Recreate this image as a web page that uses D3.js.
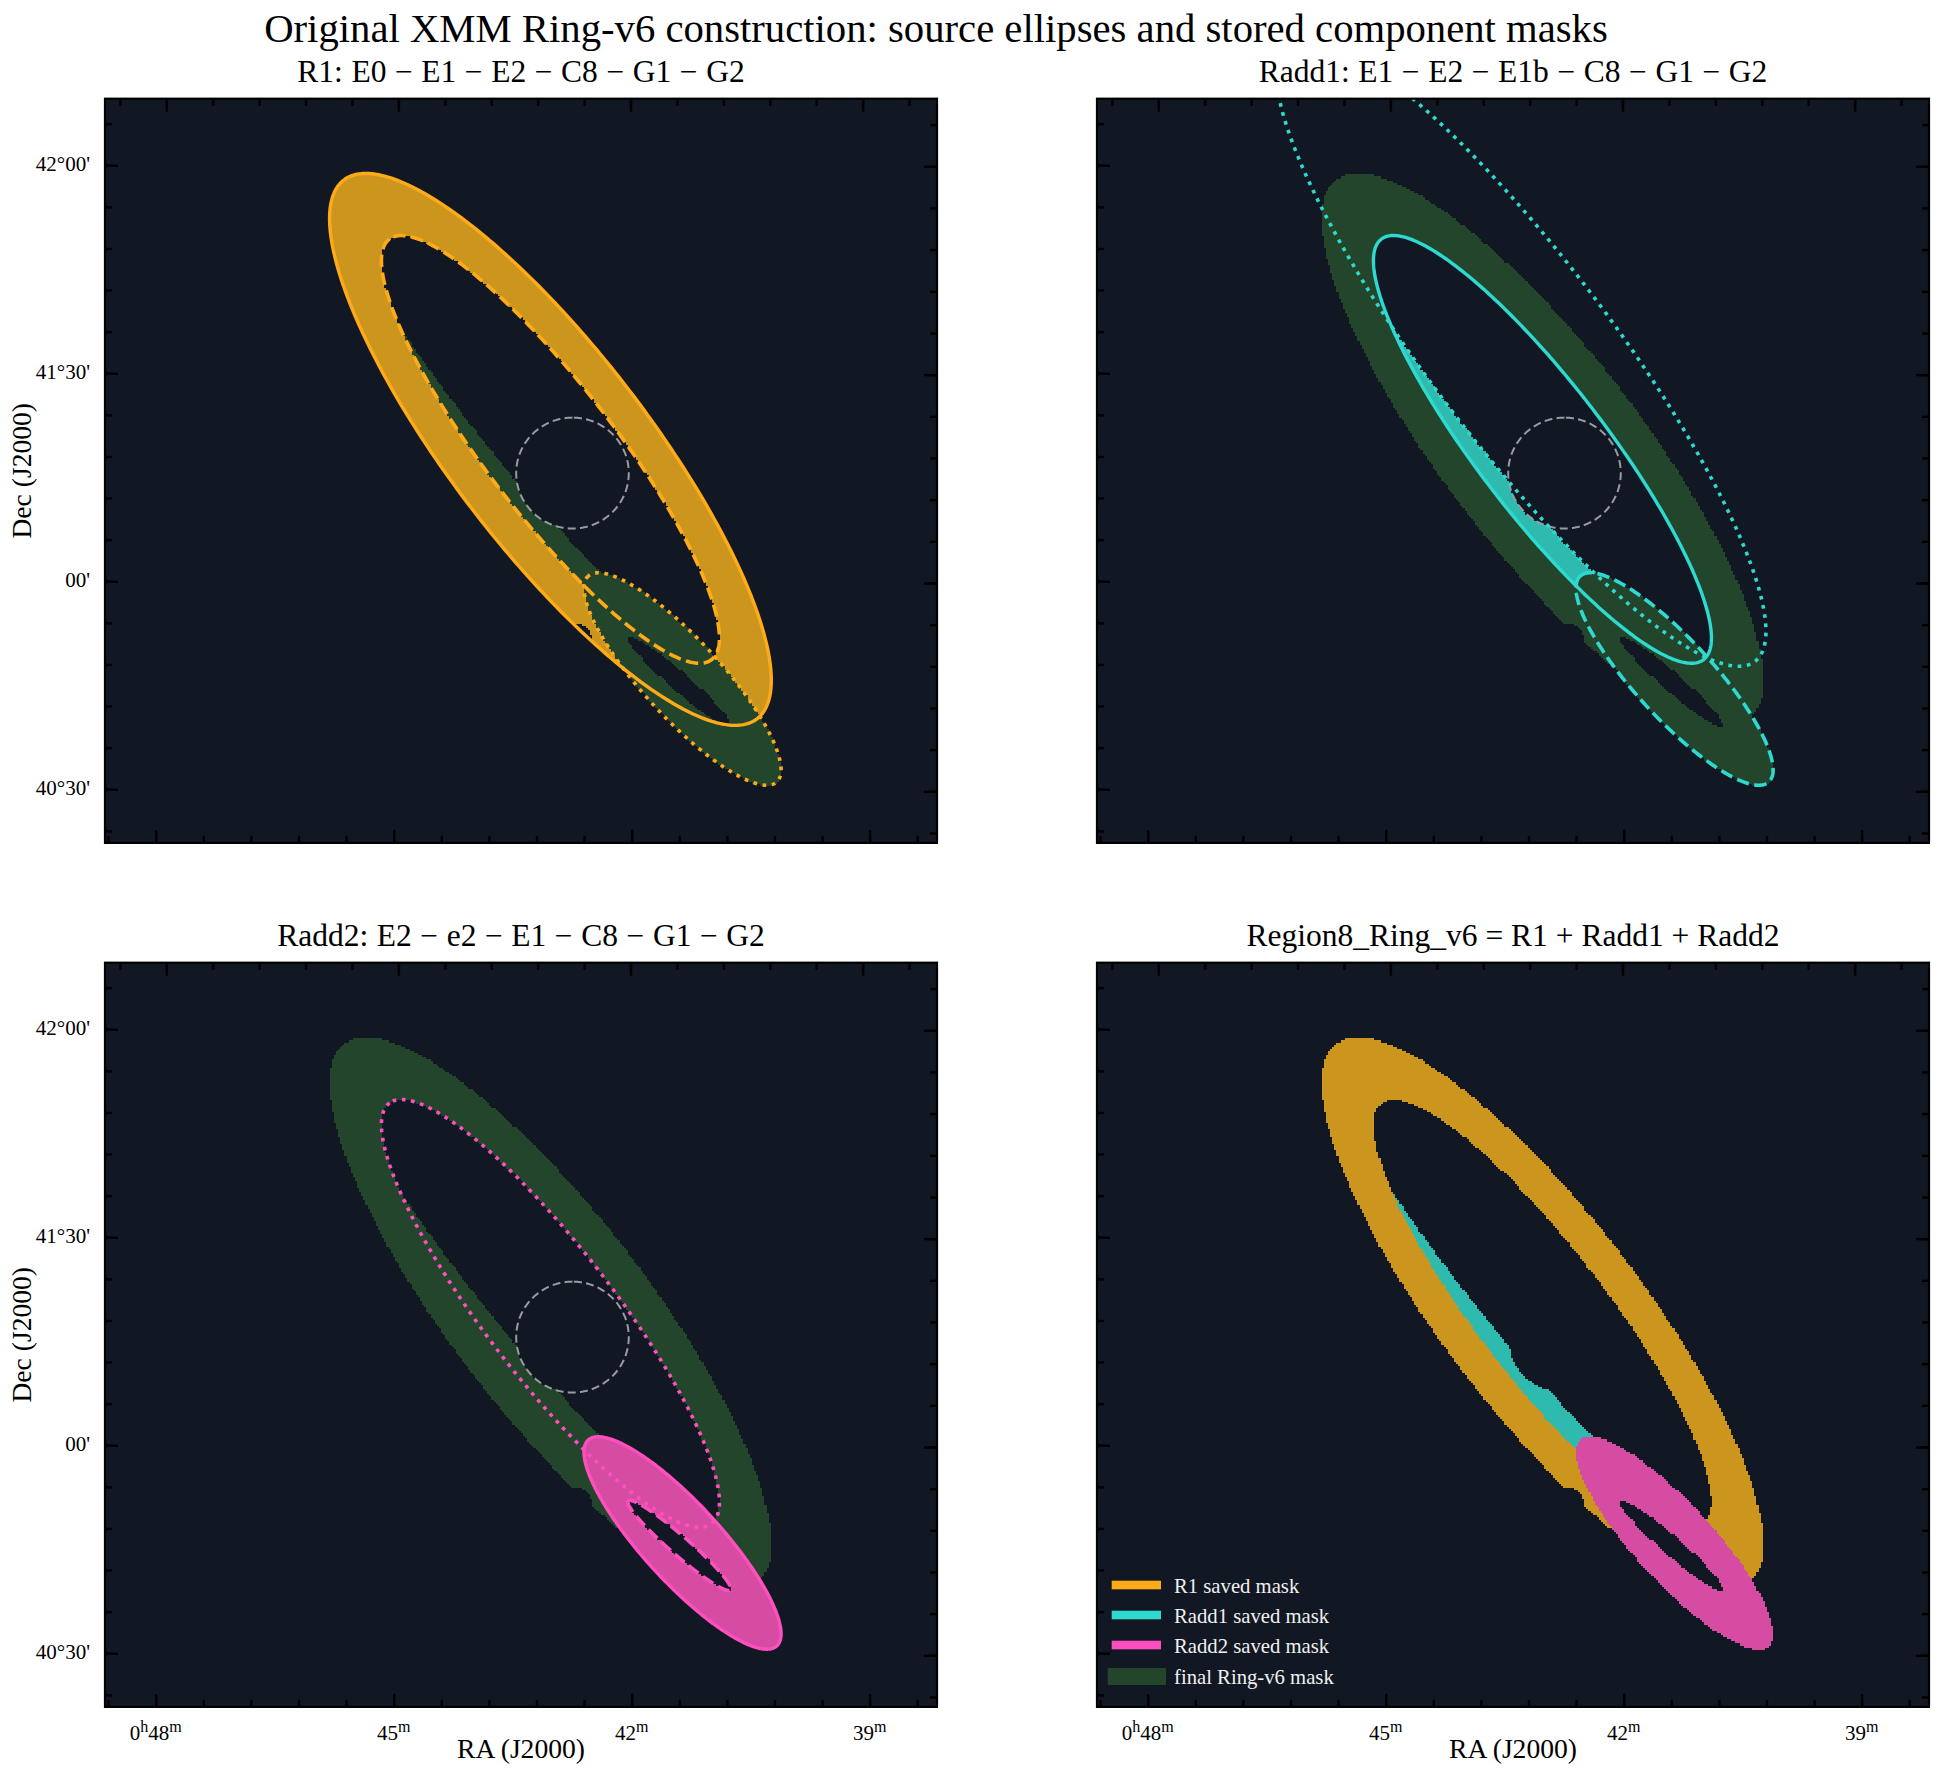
<!DOCTYPE html>
<html>
<head>
<meta charset="utf-8">
<script src="https://cdn.jsdelivr.net/npm/d3@7"></script>
<style>
  html, body { margin: 0; padding: 0; background: #fff; }
  text { font-family: "Liberation Serif", serif; fill: #000; }
</style>
</head>
<body>
<div id="chart"></div>
<script>
// source ellipses: centre RA (minutes of 0h), centre Dec (deg), semi axes (arcmin), PA (deg E of N)
const E0  = { ra: 43.024, dec: 41.317, a: 48.7, b: 14.07, pa: 37.0 };
const E1  = { ra: 43.024, dec: 41.317, a: 38.0, b: 9.2,   pa: 37.0 };
const E1b = { ra: 43.294, dec: 41.552, a: 55.7, b: 13.0,  pa: 36.6 };
const E2  = { ra: 41.359, dec: 40.765, a: 20.0, b: 5.57,  pa: 42.0 };
const e2  = { ra: 41.399, dec: 40.759, a: 9.7,  b: 1.36,  pa: 48.5 };
const C8  = { ra: 42.746, dec: 41.260, a: 8.0,  b: 8.0,   pa: 0 };
const G1  = { ra: 42.710, dec: 40.858, a: 2.4,  b: 2.4,   pa: 0 };
const G2  = { ra: 40.370, dec: 41.685, a: 3.0,  b: 3.0,   pa: 0 };

const raMajor = [48, 45, 42, 39];
const raLabels = ["48", "45", "42", "39"];
const decMajor = [42, 41.5, 41, 40.5];
const decLabels = ["42°00'", "41°30'", "00'", "40°30'"];
const raMinor = d3.range(48.6, 38.1, -0.6);
const decMinor = d3.range(42.1, 40.35, -0.1);

const panelTitles = [
  "R1: E0 − E1 − E2 − C8 − G1 − G2",
  "Radd1: E1 − E2 − E1b − C8 − G1 − G2",
  "Radd2: E2 − e2 − E1 − C8 − G1 − G2",
  "Region8_Ring_v6 = R1 + Radd1 + Radd2"
];
const legendLabels = ["R1 saved mask", "Radd1 saved mask", "Radd2 saved mask", "final Ring-v6 mask"];

const lineColors = { r1: "#ffab19", radd1: "#2ed9d0", radd2: "#ff4fbf" };
const fillColors = { r1: "#cc961e", radd1: "#2ebaaf", radd2: "#d64ca2", final: "#23452c" };
const bg = "#111823";

const width = 1944, height = 1778;
const pw = 832, ph = 744.2;
const origins = [[105, 98.7], [1097, 98.7], [105, 962.7], [1097, 962.7]];

const x = d3.scaleLinear().domain([48.639, 38.151]).range([0, pw]);
const xTop = d3.scaleLinear().domain([48, 42]).range([61.3, 525.5]);
const y = d3.scaleLinear().domain([42.16, 40.371]).range([0, ph]);
const yRight = d3.scaleLinear().domain([42, 40.5]).range([67.6, 692.6]);

const cosDec = Math.cos(41.27 * Math.PI / 180);

function inside(e, ra, dec) {
  const east = (ra - e.ra) * 15 * cosDec, north = (dec - e.dec) * 60;
  const t = e.pa * Math.PI / 180;
  const u = north * Math.cos(t) + east * Math.sin(t);
  const v = -north * Math.sin(t) + east * Math.cos(t);
  return (u * u) / (e.a * e.a) + (v * v) / (e.b * e.b) <= 1;
}

function cut(r, d) {
  return inside(C8, r, d) || inside(G1, r, d) || inside(G2, r, d);
}
// the stored Radd2 keeps the part of E2 that lies inside E1
const masks = {
  r1: (r, d) => inside(E0, r, d) && !inside(E1, r, d) && !inside(E2, r, d) && !cut(r, d),
  radd1: (r, d) => inside(E1, r, d) && !inside(E2, r, d) && !inside(E1b, r, d) && !cut(r, d),
  radd2: (r, d) => inside(E2, r, d) && !inside(e2, r, d) && !cut(r, d)
};
masks.final = (r, d) => masks.r1(r, d) || masks.radd1(r, d) || masks.radd2(r, d);

// pixelated mask outline, one rectangle per run of a grid row
const cell = 2.1;
function maskPath(test) {
  let d = "";
  for (let py = 0; py < ph; py += cell) {
    const dec = y.invert(py + cell / 2);
    let start = null;
    for (let px = 0; px <= pw; px += cell) {
      const on = test(x.invert(px + cell / 2), dec);
      if (on && start === null) start = px;
      if (!on && start !== null) {
        d += `M${start},${py}H${px}V${py + cell + 0.3}H${start}Z`;
        start = null;
      }
    }
  }
  return d;
}

const line = d3.line().x(p => x(p[0])).y(p => y(p[1]));
function ellipsePath(e) {
  const t = e.pa * Math.PI / 180;
  const pts = d3.range(0, 360.5, 1).map(deg => {
    const c = deg * Math.PI / 180;
    const u = e.a * Math.cos(c), v = e.b * Math.sin(c);
    const north = u * Math.cos(t) - v * Math.sin(t);
    const east = u * Math.sin(t) + v * Math.cos(t);
    return [e.ra + east / (15 * cosDec), e.dec + north / 60];
  });
  return line(pts);
}

const svg = d3.select("#chart").append("svg")
  .attr("width", width).attr("height", height)
  .style("display", "block");

svg.append("text")
  .attr("x", 936).attr("y", 42)
  .attr("text-anchor", "middle")
  .style("font-size", "40.7px")
  .text("Original XMM Ring-v6 construction: source ellipses and stored component masks");

svg.append("defs").append("clipPath").attr("id", "panel-clip")
  .append("rect").attr("width", pw).attr("height", ph);

const paths = {
  r1: maskPath(masks.r1),
  radd1: maskPath(masks.radd1),
  radd2: maskPath(masks.radd2),
  final: maskPath(masks.final)
};

const solid = null, dashed = "12.5,5.5", dotted = "3.7,5.6";
const panels = [
  { fills: ["final", "r1"], color: lineColors.r1, lines: [[E0, solid], [E1, dashed], [E2, dotted]], circle: true },
  { fills: ["final", "radd1"], color: lineColors.radd1, lines: [[E1, solid], [E1b, dotted], [E2, dashed]], circle: true },
  { fills: ["final", "radd2"], color: lineColors.radd2, lines: [[E2, solid], [e2, dashed], [E1, dotted]], circle: true },
  { fills: ["final", "r1", "radd1", "radd2"], color: null, lines: [], circle: false }
];

panels.forEach((p, i) => {
  const g = svg.append("g").attr("transform", `translate(${origins[i][0]},${origins[i][1]})`);

  g.append("rect").attr("width", pw).attr("height", ph).attr("fill", bg);

  const plot = g.append("g").attr("clip-path", "url(#panel-clip)");
  p.fills.forEach(k => {
    plot.append("path").attr("d", paths[k]).attr("fill", fillColors[k])
      .attr("shape-rendering", "crispEdges");
  });
  if (p.circle) {
    plot.append("path").attr("d", ellipsePath(C8))
      .attr("fill", "none").attr("stroke", "#989ca2").attr("stroke-width", 2)
      .attr("stroke-dasharray", "8,4.2");
  }
  p.lines.forEach(l => {
    plot.append("path").attr("d", ellipsePath(l[0]))
      .attr("fill", "none").attr("stroke", p.color)
      .attr("stroke-width", l[1] ? 3.6 : 3.4)
      .attr("stroke-dasharray", l[1]);
  });

  // inward ticks, the WCS grid leans a little so top and right differ from bottom and left
  const axes = [
    [d3.axisBottom(x), `translate(0,${ph})`, raMajor, raMinor, -13, -7],
    [d3.axisTop(xTop), "translate(0,0)", raMajor, raMinor.filter(v => xTop(v) > 0 && xTop(v) < pw), -13, -7],
    [d3.axisLeft(y), "translate(0,0)", decMajor, decMinor, -13, -7],
    [d3.axisRight(yRight), `translate(${pw},0)`, decMajor, decMinor, -13, -7]
  ];
  axes.forEach(a => {
    [[a[2], a[4], 2.4], [a[3], a[5], 2.4]].forEach(t => {
      const ag = g.append("g").attr("transform", a[1])
        .call(a[0].tickValues(t[0]).tickSize(t[1]).tickFormat(""));
      ag.select(".domain").remove();
      ag.selectAll("line").attr("stroke", "#000").attr("stroke-width", t[2]);
    });
  });

  g.append("rect").attr("width", pw).attr("height", ph)
    .attr("fill", "none").attr("stroke", "#000").attr("stroke-width", 2.2);

  g.append("text")
    .attr("x", pw / 2).attr("y", -16.5)
    .attr("text-anchor", "middle")
    .style("font-size", "31.5px")
    .style("word-spacing", i < 3 ? "0.7px" : "0")
    .text(panelTitles[i]);

  if (i === 0 || i === 2) {
    decMajor.forEach((v, j) => {
      g.append("text")
        .attr("x", -15).attr("y", y(v) + 6)
        .attr("text-anchor", "end")
        .style("font-size", "21px")
        .text(decLabels[j]);
    });
    g.append("text")
      .attr("transform", `translate(-74,${ph / 2}) rotate(-90)`)
      .attr("text-anchor", "middle")
      .style("font-size", "27.6px")
      .text("Dec (J2000)");
  }

  if (i >= 2) {
    raMajor.forEach((v, j) => {
      const t = g.append("text")
        .attr("x", x(v)).attr("y", ph + 33)
        .attr("text-anchor", "middle")
        .style("font-size", "21px");
      if (j === 0) {
        t.append("tspan").text("0");
        t.append("tspan").attr("dy", -8).style("font-size", "16px").text("h");
        t.append("tspan").attr("dy", 8).text(raLabels[j]);
      } else {
        t.append("tspan").text(raLabels[j]);
      }
      t.append("tspan").attr("dy", -8).style("font-size", "16px").text("m");
    });
    g.append("text")
      .attr("x", pw / 2).attr("y", ph + 51)
      .attr("text-anchor", "middle")
      .style("font-size", "27.6px")
      .text("RA (J2000)");
  }

  if (i === 3) {
    const handles = [lineColors.r1, lineColors.radd1, lineColors.radd2];
    const leg = g.append("g");
    legendLabels.forEach((label, j) => {
      const yy = 1585 + j * 30 - origins[i][1];
      if (j < 3) {
        leg.append("rect").attr("x", 14.7).attr("y", yy - 4.3)
          .attr("width", 49.3).attr("height", 8.6).attr("fill", handles[j]);
      } else {
        leg.append("rect").attr("x", 10.7).attr("y", 705.3)
          .attr("width", 58.3).attr("height", 17).attr("fill", fillColors.final);
      }
      leg.append("text")
        .attr("x", 77).attr("y", j < 3 ? yy + 7.7 : 721.3)
        .style("font-size", "20.7px").style("fill", "#f0f0f0")
        .text(label);
    });
  }
});
</script>
</body>
</html>
